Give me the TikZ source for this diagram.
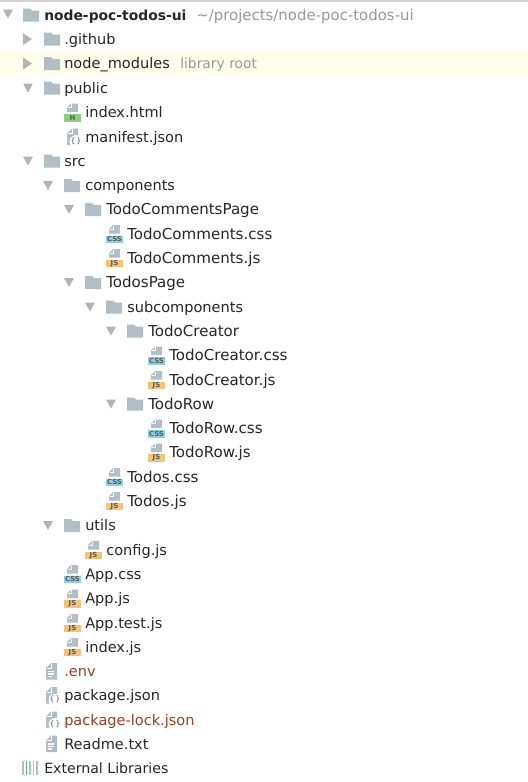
\documentclass[tikz,border=0pt]{standalone}
\usepackage{fontspec}
\setmainfont{DejaVu Sans}
\definecolor{iconGrey}{RGB}{178,190,198}
\definecolor{arrowGrey}{RGB}{178,180,182}
\definecolor{textGrey}{RGB}{150,152,154}
\definecolor{rowYellow}{RGB}{254,254,234}
\definecolor{treeText}{RGB}{38,38,38}
\definecolor{redText}{RGB}{152,62,38}
\definecolor{htmlGreen}{RGB}{142,205,125}
\definecolor{cssBlue}{RGB}{140,208,230}
\definecolor{jsOrange}{RGB}{245,195,115}
\tikzset{
  treeLabel/.style={anchor=west,inner sep=0pt,text height=10pt,text depth=1.8pt,font=\fontsize{10.9}{12}\selectfont,text=treeText},
  todoLabel/.style={treeLabel,font=\fontsize{11.3}{12}\selectfont},
  noteLabel/.style={treeLabel,font=\fontsize{10.4}{12}\selectfont,text=textGrey},
  redLabel/.style={treeLabel,text=redText},
  badgeText/.style={inner sep=0pt,font=\fontsize{5.2}{5}\selectfont\bfseries},
  pics/openArrow/.style={code={\fill[arrowGrey] (-5,4.5) -- (5,4.5) -- (0,-4.5) -- cycle;}},
  pics/closedArrow/.style={code={\fill[arrowGrey] (-5,6) -- (4,0) -- (-5,-6) -- cycle;}},
  pics/folderIcon/.style={code={\fill[iconGrey] (0,6.5) -- (7,6.5) -- (9,4.5) -- (16,4.5) -- (16,-6.5) -- (0,-6.5) -- cycle;}},
  pics/pageIcon/.style={code={
    \fill[iconGrey] (0,3.5) -- (5,8.5) -- (11,8.5) -- (11,-8) -- (0,-8) -- cycle;
    \draw[white,line width=0.5pt] (5,8) -- (5,3.5) -- (0.5,3.5);}},
  pics/textIcon/.style={code={
    \pic at (0,0) {pageIcon};
    \foreach \yy/\xx in {0/8,-2.5/8,-5/5.5} \draw[white,line width=0.8pt] (2,\yy) -- (\xx,\yy);}},
  pics/jsonIcon/.style={code={
    \pic at (0,0) {pageIcon};
    \fill[white] (9,-4.5) circle (6.4);
    \node[inner sep=0pt,text=black!70,font=\fontsize{5.6}{6}\selectfont] at (9,-4) {\{\,\}};}},
  pics/badgeIcon/.style args={#1/#2}{code={
    \fill[iconGrey] (3,5) -- (7,9) -- (14,9) -- (14,0.5) -- (3,0.5) -- cycle;
    \draw[white,line width=0.5pt] (7,8.5) -- (7,5) -- (3.5,5);
    \fill[#1] (0,-1.5) rectangle (17,-9);
    \node[badgeText,text=black!65] at (8.5,-5.3) {#2};}}
}
\begin{document}
\begin{tikzpicture}[x=0.75pt,y=0.75pt,yscale=-1,xscale=1]
\useasboundingbox (0,0) rectangle (528,782);
\fill[white] (0,0) rectangle (528,782);
%top edge and highlighted row
\fill[black!18] (0,0) rectangle (528,2);
\fill[rowYellow] (0,51) rectangle (528,75.5);

%project root
\pic at (8,14) {openArrow};
\pic at (23,15) {folderIcon};
\node[treeLabel,font=\fontsize{10.4}{12}\selectfont\bfseries] (rootLabel) at (44,15) {node-poc-todos-ui};
\node[noteLabel,font=\fontsize{11.2}{12}\selectfont] (rootPath) at (196,15) {\textasciitilde/projects/node-poc-todos-ui};

%first level folders
\pic at (28,39) {closedArrow};
\pic at (44,39) {folderIcon};
\node[treeLabel] (githubLabel) at (64,39) {.github};
\pic at (28,63.5) {closedArrow};
\pic at (44,63.5) {folderIcon};
\node[treeLabel] (modulesLabel) at (64,63.5) {node\_modules};
\node[noteLabel] (modulesNote) at (180,63.5) {library root};
\pic at (28,88) {openArrow};
\pic at (44,88) {folderIcon};
\node[treeLabel] (publicLabel) at (64,88) {public};
\pic at (64,112.5) {badgeIcon={htmlGreen/H}};
\node[treeLabel] (indexHtml) at (85,112.5) {index.html};
\pic at (67,137) {jsonIcon};
\node[treeLabel] (manifestJson) at (85,137) {manifest.json};
\pic at (28,161) {openArrow};
\pic at (44,161) {folderIcon};
\node[treeLabel] (srcLabel) at (64,161) {src};

%components
\pic at (48,185.5) {openArrow};
\pic at (64,185.5) {folderIcon};
\node[treeLabel] (componentsLabel) at (85,185.5) {components};
\pic at (69,209.5) {openArrow};
\pic at (85,209.5) {folderIcon};
\node[todoLabel] (commentsPage) at (106,209.5) {TodoCommentsPage};
\pic at (106,234) {badgeIcon={cssBlue/CSS}};
\node[todoLabel] (commentsCss) at (127,234) {TodoComments.css};
\pic at (106,258) {badgeIcon={jsOrange/JS}};
\node[todoLabel] (commentsJs) at (127,258) {TodoComments.js};
\pic at (69,282.5) {openArrow};
\pic at (85,282.5) {folderIcon};
\node[todoLabel] (todosPage) at (106,282.5) {TodosPage};
\pic at (90,307) {openArrow};
\pic at (106,307) {folderIcon};
\node[treeLabel] (subLabel) at (127,307) {subcomponents};
\pic at (111,331) {openArrow};
\pic at (127,331) {folderIcon};
\node[todoLabel] (creatorLabel) at (148,331) {TodoCreator};
\pic at (148,355.5) {badgeIcon={cssBlue/CSS}};
\node[todoLabel] (creatorCss) at (169,355.5) {TodoCreator.css};
\pic at (148,380) {badgeIcon={jsOrange/JS}};
\node[todoLabel] (creatorJs) at (169,380) {TodoCreator.js};
\pic at (111,404) {openArrow};
\pic at (127,404) {folderIcon};
\node[todoLabel] (rowLabel) at (148,404) {TodoRow};
\pic at (148,428.5) {badgeIcon={cssBlue/CSS}};
\node[todoLabel] (rowCss) at (169,428.5) {TodoRow.css};
\pic at (148,452.5) {badgeIcon={jsOrange/JS}};
\node[todoLabel] (rowJs) at (169,452.5) {TodoRow.js};
\pic at (106,477) {badgeIcon={cssBlue/CSS}};
\node[todoLabel] (todosCss) at (127,477) {Todos.css};
\pic at (106,501) {badgeIcon={jsOrange/JS}};
\node[todoLabel] (todosJs) at (127,501) {Todos.js};

%utils and src files
\pic at (48,525.5) {openArrow};
\pic at (64,525.5) {folderIcon};
\node[treeLabel] (utilsLabel) at (85,525.5) {utils};
\pic at (85,550) {badgeIcon={jsOrange/JS}};
\node[treeLabel] (configJs) at (106,550) {config.js};
\pic at (64,574) {badgeIcon={cssBlue/CSS}};
\node[treeLabel] (appCss) at (85,574) {App.css};
\pic at (64,598.5) {badgeIcon={jsOrange/JS}};
\node[treeLabel] (appJs) at (85,598.5) {App.js};
\pic at (64,623) {badgeIcon={jsOrange/JS}};
\node[treeLabel] (appTest) at (85,623) {App.test.js};
\pic at (64,647) {badgeIcon={jsOrange/JS}};
\node[treeLabel] (indexJs) at (85,647) {index.js};

%root files
\pic at (46,671.5) {textIcon};
\node[redLabel] (envLabel) at (64,671.5) {.env};
\pic at (46,695.5) {jsonIcon};
\node[treeLabel] (packageJson) at (64,695.5) {package.json};
\pic at (46,720) {jsonIcon};
\node[redLabel] (packageLock) at (64,720) {package-lock.json};
\pic at (46,744) {textIcon};
\node[treeLabel] (readmeLabel) at (64,744) {Readme.txt};

%external libraries
\foreach \xx/\cc in {23/iconGrey,26.5/htmlGreen!80!black,30/cssBlue,33.5/cssBlue,37/iconGrey}
  \draw[\cc,line width=1.2pt] (\xx,761) -- (\xx,775);
\node[treeLabel,font=\fontsize{10.6}{12}\selectfont] (externalLabel) at (44,768.5) {External Libraries};
\end{tikzpicture}
\end{document}
